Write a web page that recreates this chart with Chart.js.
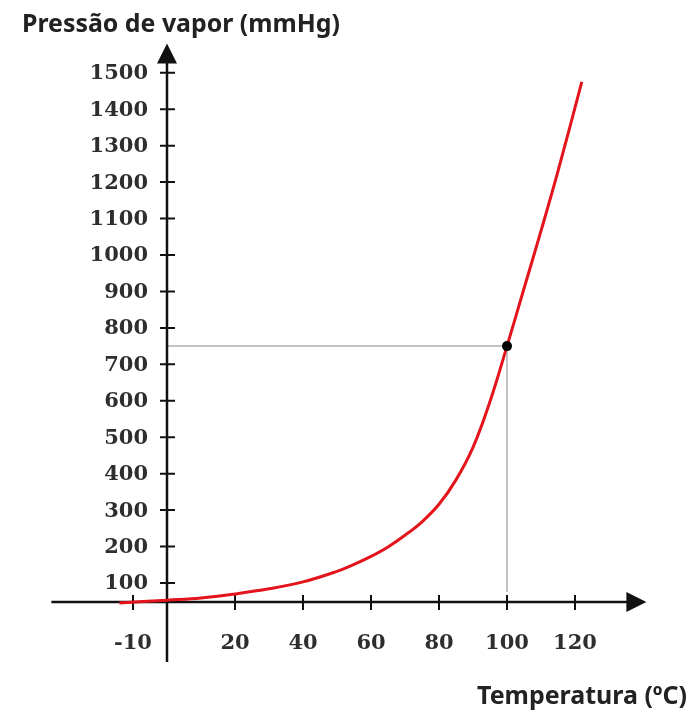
<!DOCTYPE html>
<html>
<head>
<meta charset="utf-8">
<script src="https://cdn.jsdelivr.net/npm/chart.js@4.4.0/dist/chart.umd.min.js"></script>
<style>
  html, body { margin: 0; padding: 0; background: #fff; }
  #wrap { width: 693px; height: 711px; position: relative; }
</style>
</head>
<body>
<div id="wrap"><canvas id="myChart"></canvas></div>
<script>
// curve
const temps = [-14, 0, 10, 20, 30, 40, 50, 55, 60, 65, 70, 75, 80, 85, 90, 95, 100, 105, 110, 115, 122];
const pressures = [45, 53, 59, 70, 84, 103, 132, 151, 173, 199, 231, 268, 316, 383, 472, 598, 750, 908, 1066, 1230, 1475];
const boilPoint = [100, 750];

const xTicks = [-10, 20, 40, 60, 80, 100, 120];
const yTicks = [100, 200, 300, 400, 500, 600, 700, 800, 900, 1000, 1100, 1200, 1300, 1400, 1500];
const xTitle = "Temperatura (ºC)";
const yTitle = "Pressão de vapor (mmHg)";

// the horizontal axis sits a bit above zero in the drawing
const xAxisAt = 48;

const axesPlugin = {
  id: "axes",
  beforeDatasetsDraw(chart) {
    const ctx = chart.ctx;
    const xs = chart.scales.x;
    const ys = chart.scales.y;
    const area = chart.chartArea;
    const x0 = xs.getPixelForValue(0);
    const y0 = ys.getPixelForValue(xAxisAt);
    const bx = xs.getPixelForValue(boilPoint[0]);
    const by = ys.getPixelForValue(boilPoint[1]);

    ctx.save();
    // guide lines to the boiling point
    ctx.strokeStyle = "#c2c2c2";
    ctx.lineWidth = 2;
    ctx.beginPath();
    ctx.moveTo(x0, by);
    ctx.lineTo(bx, by);
    ctx.moveTo(bx, by);
    ctx.lineTo(bx, y0 - 10);
    ctx.stroke();

    // axes
    ctx.strokeStyle = "#111";
    ctx.fillStyle = "#111";
    ctx.lineWidth = 2.5;
    ctx.beginPath();
    ctx.moveTo(area.left, y0);
    ctx.lineTo(area.right - 16, y0);
    ctx.moveTo(x0, area.bottom);
    ctx.lineTo(x0, area.top + 16);
    ctx.stroke();

    // arrow heads
    ctx.beginPath();
    ctx.moveTo(area.right, y0);
    ctx.lineTo(area.right - 20, y0 - 10);
    ctx.lineTo(area.right - 20, y0 + 10);
    ctx.closePath();
    ctx.fill();
    ctx.beginPath();
    ctx.moveTo(x0, area.top);
    ctx.lineTo(x0 - 10, area.top + 20);
    ctx.lineTo(x0 + 10, area.top + 20);
    ctx.closePath();
    ctx.fill();

    // tick marks
    ctx.lineWidth = 2;
    ctx.beginPath();
    xTicks.forEach((v) => {
      const px = xs.getPixelForValue(v);
      ctx.moveTo(px, y0 - 7);
      ctx.lineTo(px, y0 + 8);
    });
    yTicks.forEach((v) => {
      const py = ys.getPixelForValue(v);
      ctx.moveTo(x0 - 7, py);
      ctx.lineTo(x0 + 8, py);
    });
    ctx.stroke();

    // tick labels
    ctx.fillStyle = "#2e2e2e";
    ctx.font = "bold 21px 'DejaVu Serif'";
    ctx.textBaseline = "middle";
    ctx.textAlign = "right";
    yTicks.forEach((v) => {
      ctx.fillText(String(v), x0 - 19, ys.getPixelForValue(v) + 1);
    });
    ctx.textAlign = "center";
    xTicks.forEach((v) => {
      ctx.fillText(String(v), xs.getPixelForValue(v), y0 + 42);
    });

    // axis titles
    ctx.fillStyle = "#222";
    ctx.font = "bold 25px 'Noto Sans'";
    ctx.textBaseline = "alphabetic";
    ctx.textAlign = "left";
    ctx.fillText(yTitle, 22, 32, 318);
    ctx.fillText(xTitle, 477, 704, 210);
    ctx.restore();
  },
};

function initChart(target) {
  const curve = temps.map((t, i) => ({ x: t, y: pressures[i] }));
  return new Chart(target, {
    type: "scatter",
    data: {
      datasets: [
        {
          label: "ponto de ebulição",
          data: [{ x: boilPoint[0], y: boilPoint[1] }],
          pointRadius: 5,
          pointBackgroundColor: "#000",
          pointBorderWidth: 0,
        },
        {
          label: "pressão de vapor",
          data: curve,
          showLine: true,
          borderColor: "#e3141b",
          borderWidth: 3,
          pointRadius: 0,
          tension: 0.4,
        },
      ],
    },
    options: {
      responsive: true,
      maintainAspectRatio: false,
      animation: false,
      layout: { padding: { left: 51.4, right: 46.6, top: 43.6, bottom: 48.9 } },
      plugins: { legend: { display: false }, tooltip: { enabled: false } },
      scales: {
        x: { type: "linear", min: -34, max: 141, display: false },
        y: { type: "linear", min: -117, max: 1580, display: false },
      },
    },
    plugins: [axesPlugin],
  });
}

document.addEventListener("DOMContentLoaded", () => {
  initChart(document.querySelector("#myChart"));
});
</script>
</body>
</html>
